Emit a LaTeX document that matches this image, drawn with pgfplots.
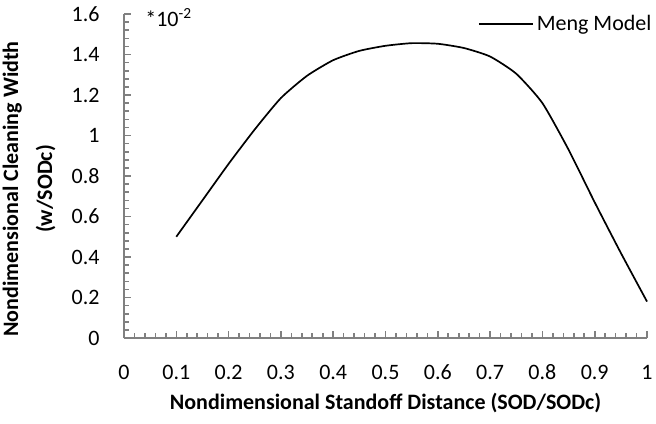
\documentclass[border=0pt]{standalone}
\usepackage{fontspec}
\setmainfont{Carlito}
\usepackage{pgfplots}
\pgfplotsset{compat=1.18}

\pgfplotstableread{
x y
0.10 0.50
0.15 0.68
0.20 0.86
0.25 1.03
0.30 1.185
0.35 1.295
0.40 1.372
0.45 1.418
0.50 1.443
0.55 1.456
0.60 1.453
0.65 1.432
0.70 1.39
0.75 1.305
0.80 1.16
0.85 0.93
0.90 0.67
0.95 0.42
1.00 0.18
}\meng

\definecolor{axgray}{RGB}{128,128,128}

\begin{document}
\begin{tikzpicture}
\useasboundingbox (-62pt,-42.5pt) rectangle (266pt,169pt);
\begin{axis}[
    scale only axis, width=261.5pt, height=162pt,
    xmin=0, xmax=1, ymin=0, ymax=1.6,
    axis x line=bottom, axis y line=left,
    axis line style={-, axgray, line width=1pt},
    xtick={0,0.1,...,1}, ytick={0,0.2,...,1.6},
    minor x tick num=4, minor y tick num=4,
    tick align=inside, tick style={axgray, line width=0.8pt},
    major tick length=3.5pt, minor tick length=2.5pt,
    font=\fontsize{11pt}{13pt}\selectfont,
    /pgf/number format/assume math mode=true,
    xticklabel style={anchor=center, yshift=-17pt},
    yticklabel style={anchor=east, inner sep=0pt, xshift=-12pt},
    xlabel={\bfseries Nondimensional Standoff Distance (SOD/SODc)},
    xlabel style={at={(axis description cs:0.5,-0.2)}, anchor=center},
    ylabel={\bfseries\begin{tabular}{c}Nondimensional Cleaning Width\\[4pt](w/SODc)\end{tabular}},
    ylabel style={at={(axis description cs:-0.18,0.46)}, anchor=center},
    legend style={draw=none, fill=none, at={(axis description cs:1.015,0.969)}, anchor=east,
        inner sep=0pt, nodes={inner sep=1.5pt}},
    legend image code/.code={\draw[#1] (0pt,0pt) -- (27pt,0pt);},
    clip=false,
]
\addplot[black, line width=0.85pt, smooth, tension=0.35] table[x=x, y=y] {\meng};
\legend{Meng Model}
\node[anchor=west, inner sep=0pt] at (axis description cs:0.04,0.988) {*10\textsuperscript{-2}};
\end{axis}
\end{tikzpicture}
\end{document}
